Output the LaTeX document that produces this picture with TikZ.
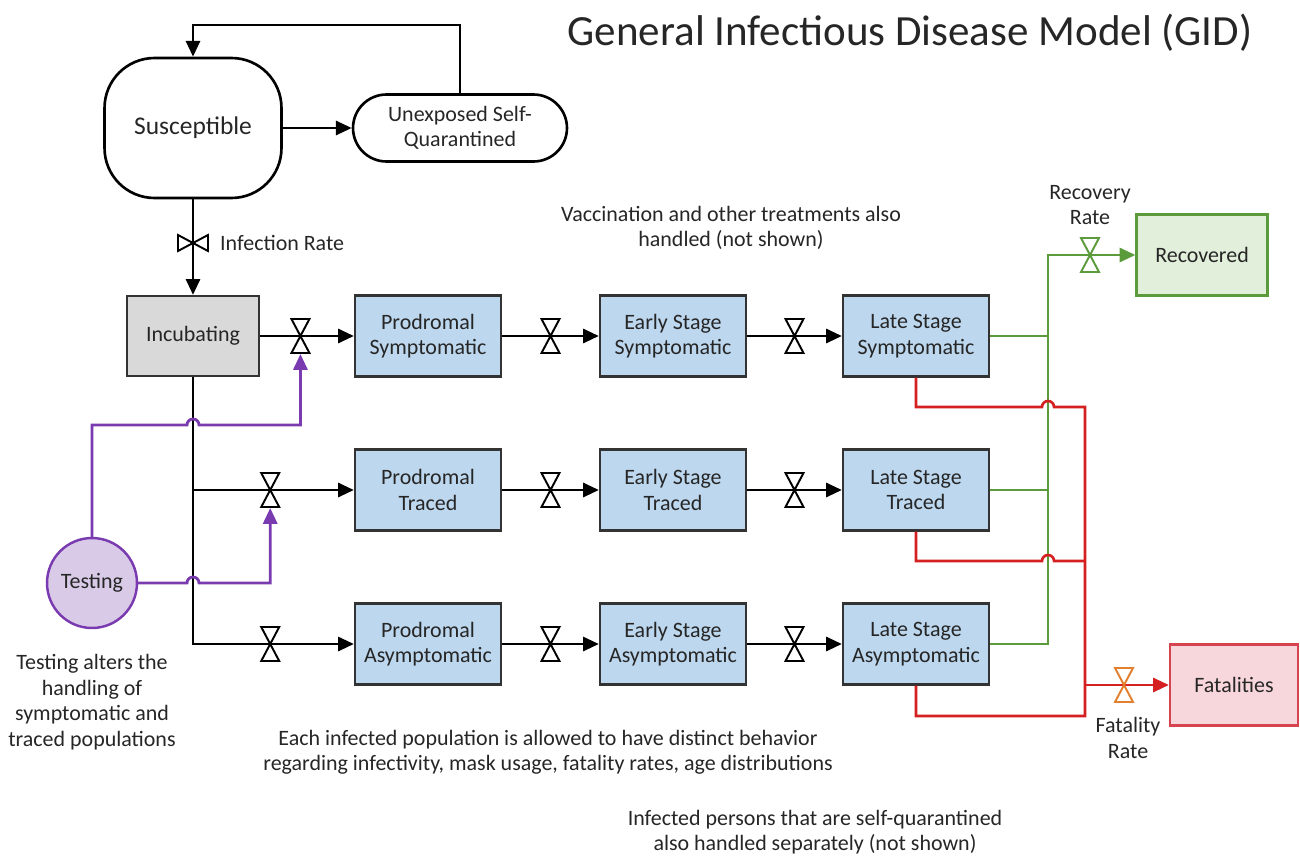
\documentclass[tikz,border=0pt]{standalone}
\usepackage{fontspec}
\setmainfont{Carlito}
\usetikzlibrary{arrows.meta,calc}

\definecolor{boxblue}{HTML}{BDD7EE}
\definecolor{boxgray}{HTML}{D9D9D9}
\definecolor{recfill}{HTML}{E2EFDA}
\definecolor{recline}{HTML}{5B9B3B}
\definecolor{fatfill}{HTML}{F8D7DC}
\definecolor{fatline}{HTML}{D6444F}
\definecolor{redflow}{HTML}{D42020}
\definecolor{purpflow}{HTML}{7A3BB0}
\definecolor{testfill}{HTML}{D9CBE8}
\definecolor{valveorange}{HTML}{E2802F}

\tikzset{
  stock/.style={draw=black!80,line width=1.3pt,fill=boxblue,minimum width=2.92cm,
    minimum height=1.62cm,align=center,inner sep=2pt},
  flow/.style={line width=1.6pt,-{Triangle[length=9pt,width=8pt]}},
  link/.style={line width=1.5pt},
  vvalve/.pic={\draw[line width=1.1pt,fill=white,-]
    (-9,-17) -- (9,-17) -- (0,0) -- cycle (-9,17) -- (9,17) -- (0,0) -- cycle;},
  hvalve/.pic={\draw[line width=1.1pt,fill=white,-]
    (-15,-8) -- (-15,8) -- (0,0) -- cycle (15,-8) -- (15,8) -- (0,0) -- cycle;}
}

\begin{document}
\begin{tikzpicture}[x=0.02cm,y=-0.02cm,
  every node/.append style={font=\fontsize{12.5}{14.5}\selectfont,text=black!85}]
\useasboundingbox (0,0) rectangle (1300,855);

\node[font=\fontsize{24.5}{28}\selectfont] (title) at (910,33) {General Infectious Disease Model (GID)};

% top part
\node[draw,line width=1.5pt,rounded corners=1cm,minimum width=3.54cm,minimum height=2.8cm,
  font=\fontsize{14.5}{17}\selectfont] (susc) at (193,128) {Susceptible};
\node[draw,line width=1.5pt,rounded corners=0.67cm,minimum width=4.28cm,minimum height=1.34cm,
  align=center] (unexp) at (460,128) {Unexposed Self-\\Quarantined};
\coordinate (fb) at (460,25);
\draw[flow] (susc) -- (unexp);
\draw[flow] (unexp.north) -- (fb) -| (susc.north);

\node[stock,fill=boxgray,minimum width=2.64cm,minimum height=1.6cm] (incub) at (193,336) {Incubating};
\draw[flow] (susc) -- (incub);
\pic at (193,243) {hvalve};
\node[anchor=west] (inflab) at (214,243) {Infection Rate};

% infected populations
\node[stock] (pds) at (428,336) {Prodromal\\Symptomatic};
\node[stock] (es) at (673,336) {Early Stage\\Symptomatic};
\node[stock] (ls) at (916,336) {Late Stage\\Symptomatic};
\node[stock] (pdt) at (428,490) {Prodromal\\Traced};
\node[stock] (et) at (673,490) {Early Stage\\Traced};
\node[stock] (lt) at (916,490) {Late Stage\\Traced};
\node[stock] (pda) at (428,644) {Prodromal\\Asymptomatic};
\node[stock] (ea) at (673,644) {Early Stage\\Asymptomatic};
\node[stock] (la) at (916,644) {Late Stage\\Asymptomatic};

\coordinate (v1) at ($(incub.east)!0.43!(pds.west)$);
\coordinate (v2) at ($(incub |- pdt)!0.48!(pdt.west)$);
\coordinate (v3) at ($(incub |- pda)!0.48!(pda.west)$);
\draw[flow] (incub) -- (pds);
\draw[flow] (incub |- pdt) -- (pdt);
\draw[flow] (incub.south) |- (pda);
\foreach \p in {v1,v2,v3} \pic at (\p) {vvalve};
\foreach \a/\b in {pds/es,es/ls,pdt/et,et/lt,pda/ea,ea/la} {
  \draw[flow] (\a) -- (\b);
  \pic at ($(\a.east)!0.5!(\b.west)$) {vvalve};
}

% testing
\node[circle,draw=purpflow,fill=testfill,line width=1.4pt,minimum size=1.8cm] (test) at (92,583) {Testing};
\node[align=center] (testnote) at (92,702) {Testing alters the\\handling of\\symptomatic and\\traced populations};
\draw[flow,purpflow] (test.north) |- (187,425) arc[start angle=180,end angle=360,radius=6]
  -| ($(v1)+(0,18)$);
\draw[flow,purpflow] (test.east) -- (187,583) arc[start angle=180,end angle=360,radius=6]
  -| ($(v2)+(0,18)$);

% recovery
\node[stock,draw=recline,fill=recfill,minimum width=2.62cm] (rec) at (1202,255) {Recovered};
\coordinate (gtop) at (1048,255);
\draw[link,recline] (ls.east) -- (ls.east -| gtop);
\draw[link,recline] (lt.east) -- (lt.east -| gtop);
\draw[flow,recline] (la.east) -| (gtop) -- (rec);
\pic[recline] at (1090,255) {vvalve};
\node[align=center] (reclab) at (1090,205) {Recovery\\Rate};

% fatalities
\node[stock,draw=fatline,fill=fatfill,minimum width=2.56cm] (fat) at (1234,685) {Fatalities};
\coordinate (rj) at (1085,685);
\draw[link,redflow] (ls.south) |- (1042,407) arc[start angle=180,end angle=360,radius=6]
  -| (1085,716) -| (la.south);
\draw[link,redflow] (lt.south) |- (1042,561) arc[start angle=180,end angle=360,radius=6]
  -- (1085,561);
\draw[flow,redflow] (rj) -- (fat);
\pic[valveorange] at (1124,685) {vvalve};
\node[align=center] (fatlab) at (1128,738) {Fatality\\Rate};

% notes
\node[align=center] (vacc) at (731,228) {Vaccination and other treatments also\\handled (not shown)};
\node[align=center] (each) at (548,752) {Each infected population is allowed to have distinct behavior\\regarding infectivity, mask usage, fatality rates, age distributions};
\node[align=center] (selfq) at (815,832) {Infected persons that are self-quarantined\\also handled separately (not shown)};
\end{tikzpicture}
\end{document}
